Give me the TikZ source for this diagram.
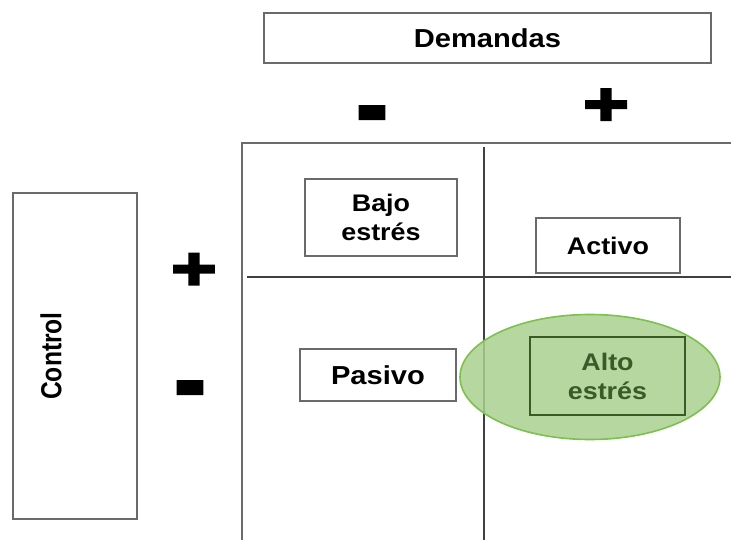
\documentclass[tikz,border=0pt]{standalone}
\usepackage{fontspec}
\setmainfont{Liberation Sans}[FakeStretch=1.12]
\newfontfamily\ctlfont{Liberation Sans}[FakeStretch=0.85]
\newfontfamily\signfont{Liberation Sans}[FakeStretch=1.12,FakeBold=4]
\usetikzlibrary{shapes.geometric}

\definecolor{boxgray}{HTML}{6A6A6A}
\definecolor{gridgray}{HTML}{404040}
\definecolor{ellfill}{HTML}{A9D08E}
\definecolor{elldraw}{HTML}{7DC04F}
\definecolor{altogreen}{HTML}{3A5A28}

\begin{document}
\begin{tikzpicture}[x=1pt,y=-1pt,
    box/.style={
      draw=boxgray,
      line width=1.5pt,
      fill=white,
      align=center,
      inner sep=0pt,
      font=\bfseries\fontsize{26}{30}\selectfont
    },
    small/.style={font=\bfseries\fontsize{24}{29}\selectfont},
    plus/.style={inner sep=0pt,transform shape,xscale=1.16,
      font=\signfont\bfseries\fontsize{60}{60}\selectfont},
    minus/.style={inner sep=0pt,transform shape,xscale=1.15,yscale=1.3,
      font=\signfont\bfseries\fontsize{72}{72}\selectfont},
    grid/.style={draw=gridgray,line width=2.2pt}]

  \useasboundingbox (0,0) rectangle (731,540);

  % frame of the four fields
  \draw[draw=boxgray,line width=1.5pt] (731,143) -| (242,540);
  \coordinate (vtop) at (484,147);
  \coordinate (vbot) at (484,540);
  \coordinate (hleft) at (247,277);
  \coordinate (hright) at (731,277);
  \draw[grid] (vtop) -- (vbot);
  \draw[grid] (hleft) -- (hright);

  \node[box,minimum width=447pt,minimum height=50pt] (dem) at (487.5,38) {Demandas};
  \node[minus] (dminus) at (372,122) {-};
  \node[plus] (dplus) at (606,107) {+};

  \node[box,minimum width=124pt,minimum height=326pt] (ctl) at (75,356) {};
  \node[rotate=90,inner sep=0pt,font=\ctlfont\bfseries\fontsize{29}{30}\selectfont]
    (ctltxt) at ([xshift=-24pt]ctl.center) {Control};
  \node[plus] (cplus) at (194,271.5) {+};
  \node[minus] (cminus) at (190,397) {-};

  \node[box,small,minimum width=152pt,minimum height=77pt] (bajo) at (381,217.5) {Bajo\\estrés};
  \node[box,small,minimum width=144pt,minimum height=55pt] (activo) at (608,245.5) {Activo};
  \node[box,minimum width=156pt,minimum height=52pt] (pasivo) at (378,375) {Pasivo};

  \node[ellipse,draw=elldraw,line width=1.6pt,fill=ellfill,fill opacity=0.85,
    minimum width=260pt,minimum height=125pt,inner sep=0pt] (foco) at (590,377) {};
  \node[box,small,draw=altogreen,fill=none,text=altogreen,
    minimum width=155pt,minimum height=78pt] (alto) at (607.5,376) {Alto\\estrés};
\end{tikzpicture}
\end{document}
